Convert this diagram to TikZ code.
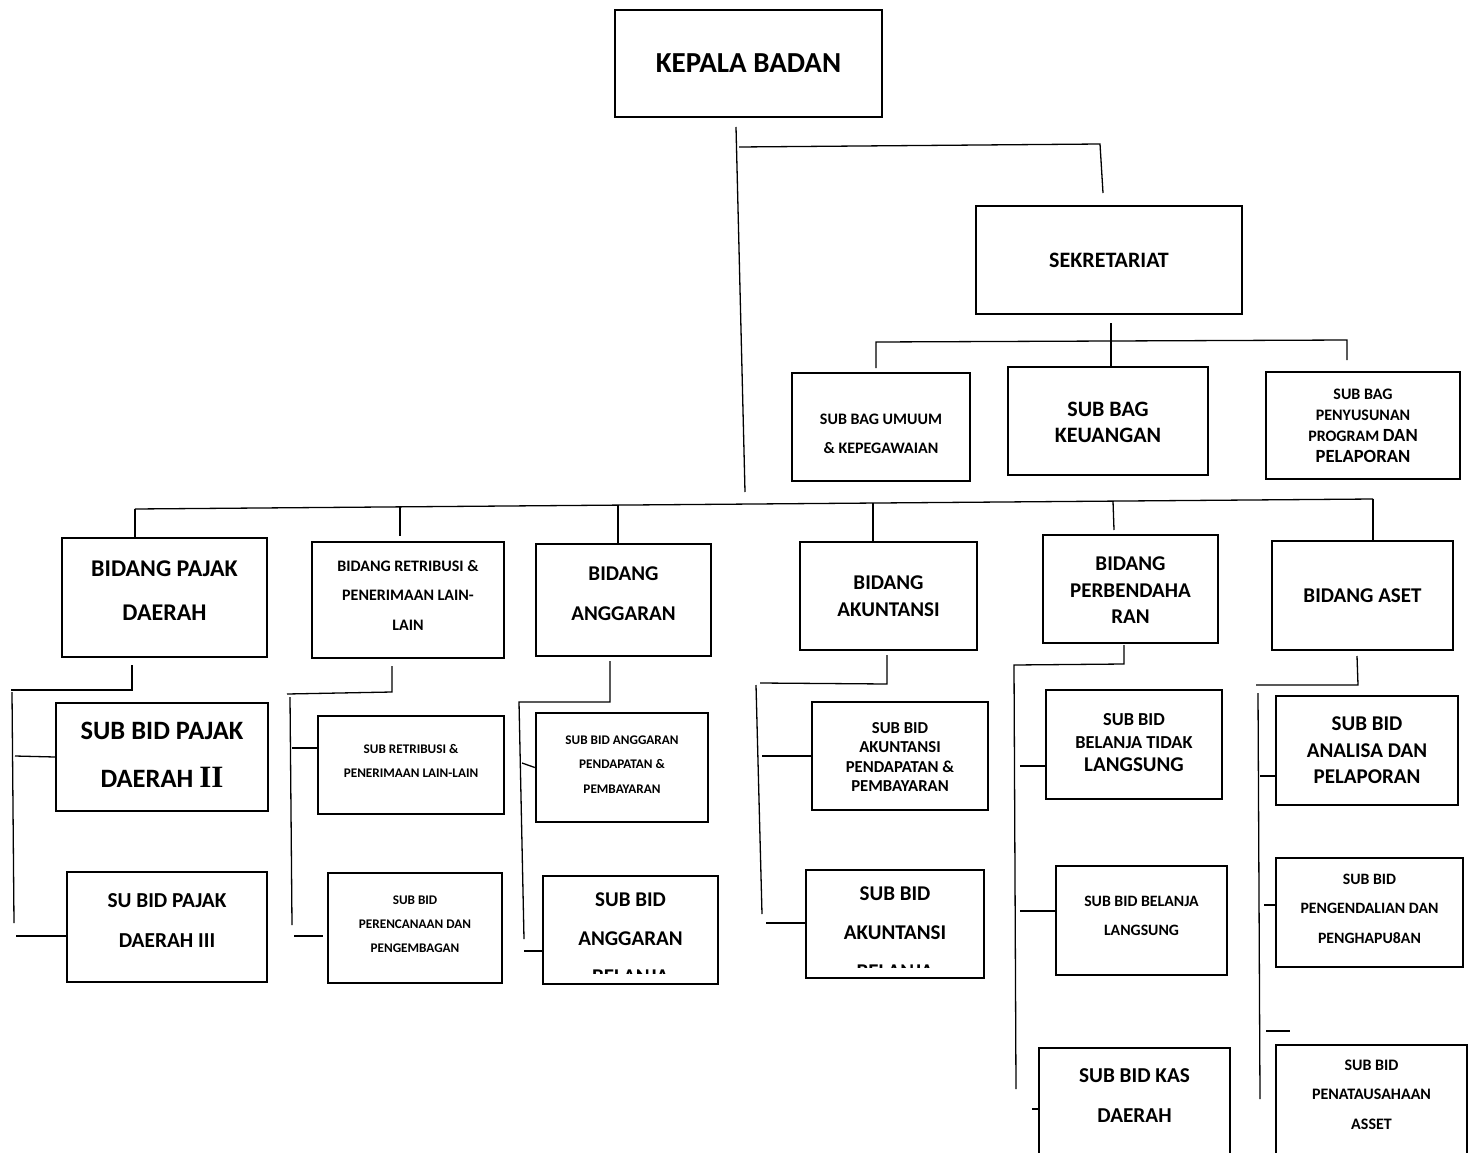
\documentclass[tikz,border=0pt]{standalone}
\usepackage{fontspec}
\setmainfont{Carlito}
\newfontfamily\romanii{Liberation Serif}
\newcommand{\fs}[2]{\fontsize{#1}{#2}\selectfont\bfseries}

\tikzset{
  box/.style={draw, line width=2.4pt, align=center, inner sep=0pt},
  ln/.style={line width=1.3pt},
  % last text line sits #1/2 below the box centre
  lastline/.style={text height=#1, text depth=0pt},
}

\begin{document}
\begin{tikzpicture}[x=1pt, y=-1pt]
\clip (0,0) rectangle (1472,1153);
\fill[white] (0,0) rectangle (1472,1153);

% Top level
\node[box, minimum width=267pt, minimum height=107pt, font=\fs{29}{34}] (kb) at (748.5,63.5) {KEPALA BADAN};
\node[box, minimum width=266pt, minimum height=108pt, font=\fs{22}{26}] (sek) at (1109,260) {SEKRETARIAT};

% Sub bagian under Sekretariat
\node[box, minimum width=178pt, minimum height=108pt, font=\fs{16}{29}, lastline=52.2pt] (sbu) at (881,427) {SUB BAG UMUUM\\\& KEPEGAWAIAN};
\node[box, minimum width=200pt, minimum height=108pt, font=\fs{22}{26}, lastline=42pt] (sbk) at (1108,421) {SUB BAG\\KEUANGAN};
\node[box, minimum width=194pt, minimum height=107pt, font=\fs{16}{21}, lastline=73.2pt] (sbp) at (1363,425.5) {SUB BAG\\PENYUSUNAN\\PROGRAM {\fontsize{18.6}{21}\selectfont DAN}\\{\fontsize{18.6}{21}\selectfont PELAPORAN}};

% Bidang row
\node[box, minimum width=205pt, minimum height=119pt, font=\fs{24}{44}, lastline=46.2pt] (bpd) at (164.5,597.5) {BIDANG PAJAK\\DAERAH};
\node[box, minimum width=192pt, minimum height=116pt, font=\fs{16}{29.5}, lastline=60.2pt] (bret) at (408,600) {BIDANG RETRIBUSI \&\\PENERIMAAN LAIN-\\LAIN};
\node[box, minimum width=175pt, minimum height=112pt, font=\fs{21}{40}, lastline=41.2pt] (bang) at (623.5,600) {BIDANG\\ANGGARAN};
\node[box, minimum width=177pt, minimum height=108pt, font=\fs{21}{27}, lastline=41.2pt] (bak) at (888.5,596) {BIDANG\\AKUNTANSI};
\node[box, minimum width=175pt, minimum height=108pt, font=\fs{21}{26.5}, lastline=69.2pt] (bper) at (1130.5,589) {BIDANG\\PERBENDAHA\\RAN};
\node[box, minimum width=181pt, minimum height=109pt, font=\fs{21}{25}] (bas) at (1362.5,595.5) {BIDANG ASET};

% Sub bidang
\node[box, minimum width=212pt, minimum height=108pt, font=\fs{26.5}{48}, lastline=60.8pt] (spd2) at (162,757) {SUB BID PAJAK\\DAERAH {\romanii\bfseries\fontsize{31}{48}\selectfont II}};
\node[box, minimum width=200pt, minimum height=110pt, font=\fs{21.3}{40}, lastline=41.4pt] (spd3) at (167,927) {SU BID PAJAK\\DAERAH III};
\node[box, minimum width=186pt, minimum height=98pt, font=\fs{13.2}{24}, lastline=24.4pt] (sret) at (411,765) {SUB RETRIBUSI \&\\PENERIMAAN LAIN-LAIN};
\node[box, minimum width=174pt, minimum height=110pt, font=\fs{13.2}{24}, lastline=48.4pt] (sren) at (415,928) {SUB BID\\PERENCANAAN DAN\\PENGEMBAGAN};
\node[box, minimum width=172pt, minimum height=109pt, font=\fs{13.2}{24.5}, lastline=51.4pt] (sangp) at (622,767.5) {SUB BID ANGGARAN\\PENDAPATAN \&\\PEMBAYARAN};
\node[box, minimum width=175pt, minimum height=108pt, font=\fs{21}{39}, lastline=31.2pt] (sangb) at (630.5,930) {SUB BID\\ANGGARAN};
\node[box, minimum width=176pt, minimum height=108pt, font=\fs{16.7}{19.5}, lastline=71.6pt] (sakp) at (900,756) {SUB BID\\AKUNTANSI\\PENDAPATAN \&\\PEMBAYARAN};
\node[box, minimum width=178pt, minimum height=108pt, font=\fs{21}{39}, lastline=31.2pt] (sakb) at (895,924) {SUB BID\\AKUNTANSI};
\node[box, minimum width=176pt, minimum height=109pt, font=\fs{18.3}{23}, lastline=54.6pt] (sbtl) at (1134,744.5) {SUB BID\\BELANJA TIDAK\\{\fontsize{21}{25}\selectfont LANGSUNG}};
\node[box, minimum width=171pt, minimum height=109pt, font=\fs{15.8}{29}, lastline=29pt] (sbl) at (1141.5,920.5) {SUB BID BELANJA\\LANGSUNG};
\node[box, minimum width=191pt, minimum height=108pt, font=\fs{21.2}{40}, lastline=41.4pt] (skas) at (1134.5,1102) {SUB BID KAS\\DAERAH};
\node[box, minimum width=182pt, minimum height=109pt, font=\fs{21}{26.5}, lastline=66.2pt] (sana) at (1367,750.5) {SUB BID\\ANALISA DAN\\PELAPORAN};
\node[box, minimum width=187pt, minimum height=109pt, font=\fs{15.8}{29.5}, lastline=61pt] (speng) at (1369.5,912.5) {SUB BID\\PENGENDALIAN DAN\\PENGHAPU8AN};
\node[box, minimum width=191pt, minimum height=110pt, font=\fs{16}{29.5}, lastline=58.2pt] (spen) at (1371.5,1100) {SUB BID\\PENATAUSAHAAN\\ASSET};

% third lines cut off by the boxes
\begin{scope}
  \clip (545,878) rectangle (716,973);
  \node[anchor=north, inner sep=0pt, font=\fs{21}{25}] (sangb-cut) at (630.5,970) {BELANJA};
\end{scope}
\begin{scope}
  \clip (808,872) rectangle (982,967.5);
  \node[anchor=north, inner sep=0pt, font=\fs{21}{25}] (sakb-cut) at (895,965) {BELANJA};
\end{scope}

% Kepala Badan trunk and branch to Sekretariat
\coordinate (t0) at (736,127);
\coordinate (t1) at (745,492);
\coordinate (s0) at (739,147);
\coordinate (s1) at (1100,144);
\coordinate (s2) at (1103,193);
\draw[ln] (t0) -- (t1);
\draw[ln] (s0) -- (s1) -- (s2);

% Sekretariat to sub bagian
\coordinate (k0) at (1111,323);
\coordinate (k1) at (876,368);
\coordinate (k2) at (876,342);
\coordinate (k3) at (1347,340);
\coordinate (k4) at (1347,360);
\draw[ln] (k0) -- (sbk.north -| k0);
\draw[ln] (k1) -- (k2) -- (k3) -- (k4);

% Main bar to the bidang
\coordinate (m0) at (135,509);
\coordinate (m1) at (1373,499);
\coordinate (b1) at (400,506.9);
\coordinate (b2) at (618,505.1);
\coordinate (b3) at (873,503);
\coordinate (b4) at (1113,501.1);
\coordinate (b1e) at (400,536);
\coordinate (b4e) at (1114,530);
\draw[ln] (m0) -- (m1);
\draw[ln] (m0) -- (m0 |- bpd.north);
\draw[ln] (b1) -- (b1e);
\draw[ln] (b2) -- (b2 |- bang.north);
\draw[ln] (b3) -- (b3 |- bak.north);
\draw[ln] (b4) -- (b4e);
\draw[ln] (m1) -- (m1 |- bas.north);

% Pajak Daerah
\coordinate (pj1) at (132,665);
\coordinate (pj2) at (132,690);
\coordinate (pj3) at (11,690);
\coordinate (pj4) at (12,692);
\coordinate (pj5) at (14,923);
\coordinate (pj6) at (15,756);
\coordinate (pj7) at (16,936);
\draw[ln] (pj1) -- (pj2) -- (pj3);
\draw[ln] (pj4) -- (pj5);
\draw[ln] (pj6) -- (spd2.west);
\draw[ln] (pj7) -- (pj7 -| spd3.west);

% Retribusi
\coordinate (rt1) at (392,666);
\coordinate (rt2) at (392,692);
\coordinate (rt3) at (287,694);
\coordinate (rt4) at (290,697);
\coordinate (rt5) at (292,925);
\coordinate (rt6) at (292,748);
\coordinate (rt7) at (294,936);
\coordinate (rt8) at (323,936);
\draw[ln] (rt1) -- (rt2) -- (rt3);
\draw[ln] (rt4) -- (rt5);
\draw[ln] (rt6) -- (rt6 -| sret.west);
\draw[ln] (rt7) -- (rt8);

% Anggaran
\coordinate (ag1) at (610,661);
\coordinate (ag2) at (610,702);
\coordinate (ag3) at (519,702);
\coordinate (ag4) at (524,939);
\coordinate (ag5) at (522,763);
\coordinate (ag6) at (524,951);
\draw[ln] (ag1) -- (ag2) -- (ag3) -- (ag4);
\draw[ln] (ag5) -- (sangp.west);
\draw[ln] (ag6) -- (ag6 -| sangb.west);

% Akuntansi
\coordinate (ak1) at (887,655);
\coordinate (ak2) at (887,684);
\coordinate (ak3) at (760,683);
\coordinate (ak4) at (756,685);
\coordinate (ak5) at (762,914);
\coordinate (ak6) at (762,756);
\coordinate (ak7) at (766,923);
\draw[ln] (ak1) -- (ak2) -- (ak3);
\draw[ln] (ak4) -- (ak5);
\draw[ln] (ak6) -- (sakp.west);
\draw[ln] (ak7) -- (ak7 -| sakb.west);

% Perbendaharaan
\coordinate (pb1) at (1124,645);
\coordinate (pb2) at (1124,664);
\coordinate (pb3) at (1014,665);
\coordinate (pb4) at (1016,1089);
\coordinate (pb5) at (1020,766);
\coordinate (pb6) at (1020,911);
\coordinate (pb7) at (1032,1109);
\draw[ln] (pb1) -- (pb2) -- (pb3) -- (pb4);
\draw[ln] (pb5) -- (pb5 -| sbtl.west);
\draw[ln] (pb6) -- (pb6 -| sbl.west);
\draw[ln] (pb7) -- (pb7 -| skas.west);

% Aset
\coordinate (st1) at (1357,656);
\coordinate (st2) at (1358,685);
\coordinate (st3) at (1256,685);
\coordinate (st4) at (1258,693);
\coordinate (st5) at (1260,1099);
\coordinate (st6) at (1260,776);
\coordinate (st7) at (1264,905);
\coordinate (st8) at (1266,1031);
\coordinate (st9) at (1290,1031);
\draw[ln] (st1) -- (st2) -- (st3);
\draw[ln] (st4) -- (st5);
\draw[ln] (st6) -- (st6 -| sana.west);
\draw[ln] (st7) -- (st7 -| speng.west);
\draw[ln] (st8) -- (st9);
\end{tikzpicture}
\end{document}
